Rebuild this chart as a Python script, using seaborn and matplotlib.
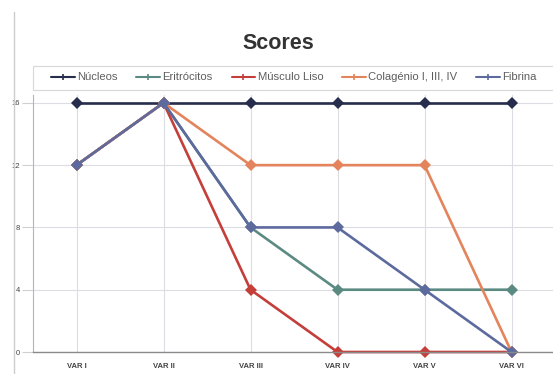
import matplotlib
matplotlib.use("Agg")
import matplotlib.pyplot as plt
from matplotlib.lines import Line2D
from matplotlib.patches import Rectangle
import seaborn as sns
import pandas as pd

categories = ["VAR I", "VAR II", "VAR III", "VAR IV", "VAR V", "VAR VI"]
series_names = ["Núcleos", "Eritrócitos", "Músculo Liso", "Colagénio I, III, IV", "Fibrina"]
nucleos = [16, 16, 16, 16, 16, 16]
eritrocitos = [12, 16, 8, 4, 4, 4]
musculo_liso = [12, 16, 4, 0, 0, 0]
colagenio = [12, 16, 12, 12, 12, 0]
fibrina = [12, 16, 8, 8, 4, 0]
y_ticks = [0, 4, 8, 12, 16]

colors = ["#272d4c", "#5b8a82", "#c43f3a", "#e4845c", "#5d6a9e"]

values = [nucleos, eritrocitos, musculo_liso, colagenio, fibrina]
rows = []
for name, vals in zip(series_names, values):
    for i, v in enumerate(vals):
        rows.append({"pos": i, "score": v, "serie": name})
df = pd.DataFrame(rows)

sns.set_theme(style="white")
plt.rcParams["font.family"] = ["Liberation Sans", "DejaVu Sans"]

W, H = 553, 374
fig = plt.figure(figsize=(W / 100, H / 100), dpi=100)
ax = fig.add_axes([0.0597, 0.0588, 0.944, 0.687])

sns.lineplot(data=df, x="pos", y="score", hue="serie", hue_order=series_names,
             palette=colors, style="serie", markers=["D"] * 5, dashes=False,
             markersize=6.5, linewidth=1.9, markeredgewidth=0, sort=False,
             legend=False, ax=ax, clip_on=False)

ax.set_xlim(-0.5, 5.5)
ax.set_ylim(0, 16.5)
ax.set_xticks(range(len(categories)))
ax.set_xticklabels(categories, fontsize=5.5, fontweight="bold", color="#444444")
ax.set_yticks(y_ticks)
ax.set_yticklabels([str(t) for t in y_ticks], fontsize=5.5, color="#444444")
ax.tick_params(axis="x", length=0, pad=8)
ax.tick_params(axis="y", length=8, width=0.8, color="#d0d0d0", pad=1.5, left=True)
ax.set_xlabel("")
ax.set_ylabel("")
ax.grid(True, color="#dcdde3", linewidth=0.8)
ax.set_axisbelow(True)
for side in ["top", "right"]:
    ax.spines[side].set_visible(False)
ax.spines["left"].set_color("#b5b5b5")
ax.spines["left"].set_linewidth(0.8)
ax.spines["bottom"].set_color("#8a8a8a")
ax.spines["bottom"].set_linewidth(1.0)

fig.text(0.503, 0.885, "Scores", ha="center", va="center",
         fontsize=15.5, fontweight="bold", color="#333333")

# legend frame running to the right edge
fig.add_artist(Rectangle((33 / W, 1 - 90 / H), (W - 33 + 5) / W, 24 / H,
                         transform=fig.transFigure, fill=False,
                         edgecolor="#d8d8d8", linewidth=0.8))

handles = [Line2D([], [], color=c, linewidth=1.5, marker="+", markersize=4,
                  markeredgewidth=1.2) for c in colors]
leg = fig.legend(handles, series_names, loc="center left", ncol=5,
                 bbox_to_anchor=(43 / W, 1 - 77.5 / H), fontsize=8.1,
                 frameon=False, handlelength=2.1, handletextpad=0.2,
                 columnspacing=1.7, borderpad=0.2)
for t in leg.get_texts():
    t.set_color("#5e5e5e")

# page edge on the left
fig.add_artist(Line2D([14 / W, 14 / W], [0.0, 1 - 12 / H], color="#cccccc",
                      linewidth=1.0, transform=fig.transFigure))

fig.savefig("out.png", dpi=100, facecolor="white")
